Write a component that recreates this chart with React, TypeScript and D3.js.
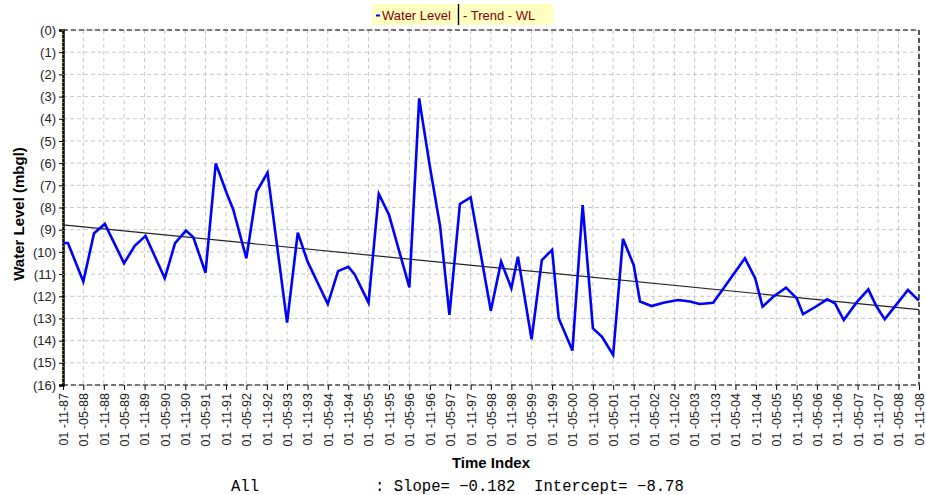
import React, { useEffect, useRef } from 'react';
import * as d3 from 'd3';

// sample dates and water levels (mbgl)
const dates = [
  '1987-11-01', '1987-12-15', '1988-05-01', '1988-08-05', '1988-11-10', '1989-05-01',
  '1989-08-05', '1989-11-10', '1990-05-01', '1990-08-01', '1990-11-07', '1991-01-12',
  '1991-05-01', '1991-08-01', '1991-11-07', '1992-01-05', '1992-05-01', '1992-08-01',
  '1992-11-07', '1993-05-01', '1993-08-05', '1993-11-01', '1994-05-01', '1994-08-01',
  '1994-11-01', '1994-12-28', '1995-05-01', '1995-08-01', '1995-11-01', '1996-05-01',
  '1996-07-28', '1996-08-15', '1996-11-01', '1997-02-01', '1997-04-25', '1997-07-28',
  '1997-11-01', '1998-05-01', '1998-08-01', '1998-11-01', '1998-12-30', '1999-05-01',
  '1999-08-01', '1999-11-01', '1999-12-30', '2000-05-01', '2000-08-01', '2000-11-01',
  '2001-01-20', '2001-05-01', '2001-07-28', '2001-11-01', '2001-12-28', '2002-04-10',
  '2002-07-25', '2002-12-05', '2003-03-20', '2003-06-15', '2003-10-15', '2004-07-25',
  '2004-10-25', '2004-12-30', '2005-04-05', '2005-07-28', '2005-11-01', '2005-12-28',
  '2006-05-01', '2006-08-01', '2006-10-10', '2006-12-28', '2007-04-20', '2007-08-05',
  '2007-10-15', '2007-12-30', '2008-04-10', '2008-07-25', '2008-10-31'
];
const levels = [
  9.6, 9.6, 11.34, 9.16, 8.74, 10.51,
  9.73, 9.28, 11.19, 9.61, 9.04, 9.34,
  10.94, 6.01, 7.36, 8.1, 10.29, 7.29,
  6.43, 13.19, 9.13, 10.44, 12.35, 10.87,
  10.67, 11.02, 12.29, 7.39, 8.34, 11.6,
  3.08, 3.68, 6.16, 8.86, 12.84, 7.84,
  7.54, 12.65, 10.44, 11.64, 10.22, 13.94,
  10.37, 9.91, 12.99, 14.45, 7.89, 13.45,
  13.82, 14.65, 9.41, 10.59, 12.24, 12.44,
  12.29, 12.17, 12.24, 12.35, 12.29, 10.29,
  11.19, 12.47, 12.02, 11.61, 12.09, 12.81,
  12.44, 12.14, 12.32, 13.07, 12.29, 11.69,
  12.44, 13.04, 12.39, 11.72, 12.2
];
const startDate = '1987-11-01';
const endDate = '2008-11-01';
const yTicks = d3.range(0, 17);
const slope = -0.182;
const intercept = -8.78;

const App = () => {
  const svgRef = useRef(null);

  useEffect(() => {
    const svg = d3.select(svgRef.current);
    svg.selectAll('*').remove();

    const margin = { top: 30, right: 7, bottom: 110, left: 63 };
    const width = 926;
    const height = 495;
    const sans = 'Liberation Sans, Arial';
    const mono = 'Liberation Mono, Courier New, monospace';
    const parse = d3.timeParse('%Y-%m-%d');
    const t0 = parse(startDate);
    const t1 = parse(endDate);

    const x = d3.scaleTime().domain([t0, t1]).range([margin.left, width - margin.right]);
    const y = d3.scaleLinear().domain([0, 16]).range([margin.top, height - margin.bottom]);
    const xTicks = d3.timeMonth.range(t0, d3.timeDay.offset(t1, 1), 6);

    // grid
    const grid = svg.append('g').attr('stroke', '#c8c8c8').attr('stroke-dasharray', '4,3');
    grid.selectAll('line.v').data(xTicks).join('line')
      .attr('x1', d => x(d)).attr('x2', d => x(d))
      .attr('y1', y(0)).attr('y2', y(16));
    grid.selectAll('line.h').data(yTicks).join('line')
      .attr('class', 'h')
      .attr('x1', x(t0)).attr('x2', x(t1))
      .attr('y1', d => y(d)).attr('y2', d => y(d));

    // frame
    svg.append('line').attr('x1', x(t0)).attr('x2', x(t1)).attr('y1', y(0)).attr('y2', y(0))
      .attr('stroke', '#000').attr('stroke-dasharray', '5,3').attr('stroke-width', 1.2);
    svg.append('line').attr('x1', x(t0)).attr('x2', x(t1)).attr('y1', y(16)).attr('y2', y(16))
      .attr('stroke', '#000').attr('stroke-dasharray', '5,3').attr('stroke-width', 1.2);
    svg.append('line').attr('x1', x(t1)).attr('x2', x(t1)).attr('y1', y(0)).attr('y2', y(16))
      .attr('stroke', '#555').attr('stroke-dasharray', '5,3').attr('stroke-width', 2);

    // axes
    const yAxis = svg.append('g')
      .attr('transform', `translate(${margin.left},0)`)
      .call(d3.axisLeft(y).tickValues(yTicks).tickSize(4).tickFormat(d => `(${d})`));
    yAxis.select('.domain').attr('stroke', '#000').attr('stroke-width', 2.5);
    yAxis.selectAll('text').attr('font-family', sans).attr('font-size', 13).attr('fill', '#222');
    svg.append('line').attr('x1', margin.left).attr('x2', margin.left).attr('y1', y(0)).attr('y2', y(16))
      .attr('stroke', '#ffee00').attr('stroke-width', 1).attr('stroke-dasharray', '1,3');

    const xAxis = svg.append('g')
      .attr('transform', `translate(0,${y(16)})`)
      .call(d3.axisBottom(x).tickValues(xTicks).tickSize(5).tickFormat(d3.timeFormat('%d -%m-%y')));
    xAxis.select('.domain').remove();
    xAxis.selectAll('text')
      .attr('font-family', sans).attr('font-size', 12.5).attr('fill', '#222')
      .attr('transform', 'rotate(-90)')
      .attr('text-anchor', 'end')
      .attr('x', -8).attr('y', 0).attr('dy', '0.35em');

    // trend
    const yearMs = 365.25 * 24 * 3600 * 1000;
    const trend = (t) => -(intercept + slope * ((t - t0) / yearMs));
    svg.append('line')
      .attr('x1', x(t0)).attr('y1', y(trend(t0)))
      .attr('x2', x(t1)).attr('y2', y(trend(t1)))
      .attr('stroke', '#222').attr('stroke-width', 1.2);

    // water level
    const pts = dates.map((d, i) => [parse(d), levels[i]]);
    const line = d3.line().x(d => x(d[0])).y(d => y(d[1]));
    svg.append('path').datum(pts)
      .attr('d', line)
      .attr('fill', 'none').attr('stroke', '#0000ff').attr('stroke-width', 2.6)
      .attr('stroke-linejoin', 'miter');

    // titles
    svg.append('text')
      .attr('transform', `translate(24,214) rotate(-90)`)
      .attr('text-anchor', 'middle')
      .attr('font-family', sans).attr('font-weight', 'bold').attr('font-size', 15)
      .text('Water Level (mbgl)');
    svg.append('text')
      .attr('x', 491).attr('y', 468)
      .attr('text-anchor', 'middle')
      .attr('font-family', sans).attr('font-weight', 'bold').attr('font-size', 15)
      .text('Time Index');
    svg.append('text')
      .attr('x', 231).attr('y', 491)
      .attr('font-family', mono).attr('font-size', 15.6)
      .text('All');
    svg.append('text')
      .attr('x', 375).attr('y', 491)
      .attr('font-family', mono).attr('font-size', 15.6)
      .style('white-space', 'pre')
      .text(`: Slope= ${slope.toFixed(3).replace('-', '\u2212')}  Intercept= ${intercept.toFixed(2).replace('-', '\u2212')}`);

    // legend
    const lg = svg.append('g').attr('transform', 'translate(372,4)');
    lg.append('rect').attr('width', 181).attr('height', 21).attr('fill', '#ffffc0');
    lg.append('line').attr('x1', 4).attr('x2', 8).attr('y1', 11.5).attr('y2', 11.5)
      .attr('stroke', '#0000ff').attr('stroke-width', 2);
    lg.append('text').attr('x', 10).attr('y', 16)
      .attr('font-family', sans).attr('font-size', 13).attr('fill', '#800000')
      .text('Water Level');
    lg.append('line').attr('x1', 86.5).attr('x2', 86.5).attr('y1', 0).attr('y2', 21)
      .attr('stroke', '#000').attr('stroke-width', 1.4);
    lg.append('text').attr('x', 91).attr('y', 16)
      .attr('font-family', sans).attr('font-size', 13).attr('fill', '#800000')
      .text('- Trend - WL');
  }, []);

  return (
    <svg ref={svgRef} width={926} height={495}
      style={{ position: 'absolute', left: 0, top: 0, background: '#fff' }}></svg>
  );
};

export default App;
